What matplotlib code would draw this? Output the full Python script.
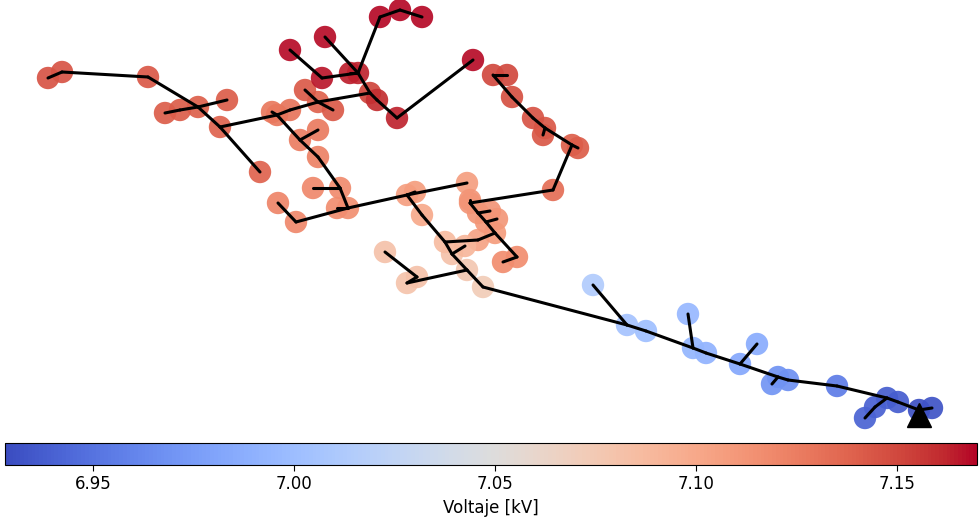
import numpy as np
import matplotlib
matplotlib.use("Agg")
import matplotlib.pyplot as plt
from matplotlib.collections import LineCollection
from matplotlib.colors import Normalize

# Bus coordinates (x to the right, y downward) of the radial feeder
bus_x = [919, 932, 898, 887, 875, 865, 837, 788, 778, 772,
         740, 757, 706, 693, 688, 646, 627, 593, 483, 467,
         452, 445, 422, 407, 415, 407, 417, 385, 478, 495,
         517, 503, 486, 478, 470, 553, 572, 578, 545, 543,
         533, 512, 493, 507, 467, 470, 348, 337, 296, 278,
         313, 340, 318, 300, 318, 277, 290, 318, 305, 333,
         370, 358, 377, 397, 473, 322, 290, 325, 350, 380,
         400, 422, 220, 198, 227, 180, 165, 148, 62, 48,
         260, 497, 465, 490, 272]
bus_y = [410, 408, 402, 398, 407, 418, 386, 380, 377, 384,
         364, 344, 353, 348, 314, 331, 325, 285, 287, 270,
         254, 242, 215, 195, 192, 283, 277, 252, 240, 233,
         257, 262, 222, 213, 203, 190, 145, 148, 128, 135,
         118, 97, 75, 75, 183, 200, 208, 208, 222, 203,
         188, 188, 157, 140, 130, 115, 110, 102, 90, 110,
         93, 73, 100, 118, 60, 78, 50, 37, 73, 17,
         10, 17, 127, 107, 100, 110, 113, 77, 72, 78,
         172, 219, 246, 211, 112]
# Bus voltage in kV
bus_kv = [6.930, 6.932, 6.937, 6.938, 6.940, 6.941, 6.955, 6.967, 6.969, 6.970,
          6.982, 6.986, 6.991, 6.993, 6.996, 7.001, 7.005, 7.014, 7.072, 7.077,
          7.082, 7.086, 7.100, 7.106, 7.107, 7.080, 7.082, 7.082, 7.103, 7.108,
          7.117, 7.117, 7.110, 7.111, 7.112, 7.133, 7.140, 7.141, 7.143, 7.143,
          7.145, 7.147, 7.150, 7.150, 7.106, 7.112, 7.116, 7.117, 7.119, 7.121,
          7.119, 7.118, 7.123, 7.125, 7.126, 7.128, 7.130, 7.138, 7.142, 7.142,
          7.152, 7.163, 7.160, 7.163, 7.168, 7.166, 7.168, 7.168, 7.164, 7.169,
          7.169, 7.169, 7.138, 7.140, 7.141, 7.141, 7.141, 7.143, 7.145, 7.145,
          7.138, 7.111, 7.090, 7.112, 7.128]
# Upstream bus of every bus (-1 marks the substation)
bus_parent = [-1, 0, 0, 2, 3, 4, 3, 6, 7, 8,
              8, 10, 10, 12, 13, 13, 15, 16, 16, 18,
              19, 20, 21, 22, 23, 19, 25, 26, 21, 28,
              29, 30, 29, 32, 33, 34, 35, 36, 36, 38,
              38, 40, 41, 42, 23, 34, 23, 46, 46, 48,
              51, 46, 51, 52, 53, 53, 55, 56, 57, 57,
              57, 60, 60, 62, 63, 61, 65, 61, 61, 61,
              69, 70, 55, 72, 73, 73, 75, 73, 77, 78,
              72, 32, 20, 33, 55]
substation = 0

vmin, vmax = 6.928, 7.170
cbar_ticks = [6.95, 7.00, 7.05, 7.10, 7.15]
cbar_label = "Voltaje [kV]"

fig = plt.figure(figsize=(9.8, 5.23), dpi=100)
ax = fig.add_axes([0.0, 88 / 523, 1.0, 435 / 523])
ax.set_xlim(0, 980)
ax.set_ylim(435, 0)
ax.axis("off")

norm = Normalize(vmin=vmin, vmax=vmax)
cmap = plt.get_cmap("coolwarm")

sc = ax.scatter(bus_x, bus_y, c=bus_kv, cmap=cmap, norm=norm,
                s=260, alpha=0.92, linewidths=0, zorder=1)

segments = [[(bus_x[i], bus_y[i]), (bus_x[p], bus_y[p])]
            for i, p in enumerate(bus_parent) if p >= 0]
ax.add_collection(LineCollection(segments, colors="black", linewidths=2.2,
                                 zorder=2, capstyle="round"))

ax.plot(bus_x[substation], bus_y[substation] + 5, marker="^", color="black",
        markersize=17, linestyle="none", zorder=3)

cax = fig.add_axes([5 / 980, 58 / 523, 972 / 980, 22 / 523])
cb = fig.colorbar(sc, cax=cax, orientation="horizontal", ticks=cbar_ticks)
cb.solids.set_alpha(1)
cb.ax.set_xticklabels([f"{t:.2f}" for t in cbar_ticks])
cb.ax.tick_params(labelsize=12, length=4)
cb.set_label(cbar_label, fontsize=12)

fig.savefig("out.png", dpi=100)
